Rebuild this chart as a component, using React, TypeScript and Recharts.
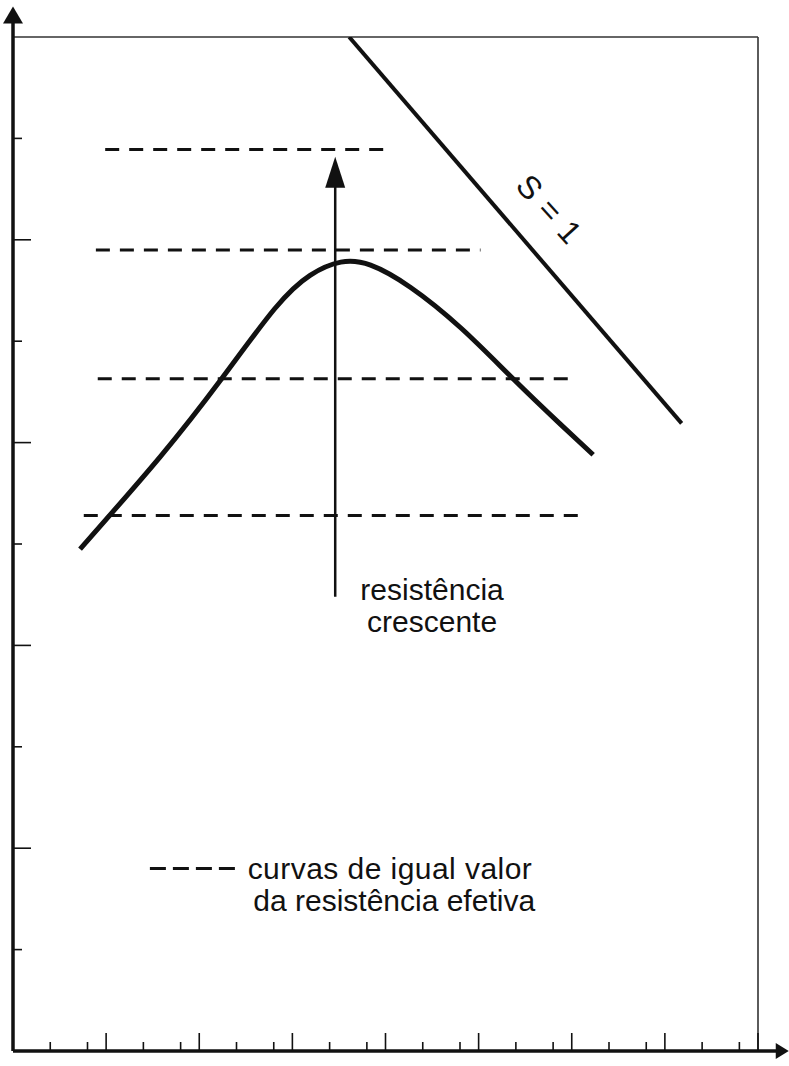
import { ComposedChart, Line, XAxis, YAxis, ReferenceLine, ReferenceDot } from 'recharts'

// axis ticks
const xMajorTicks = [1, 2, 3, 4, 5, 6, 7, 8]
const xMinorTicks = [
  0.2, 0.4, 0.6, 0.8, 1.2, 1.4, 1.6, 1.8, 2.2, 2.4, 2.6, 2.8, 3.2, 3.4, 3.6, 3.8,
  4.2, 4.4, 4.6, 4.8, 5.2, 5.4, 5.6, 5.8, 6.2, 6.4, 6.6, 6.8, 7.2, 7.4, 7.6, 7.8,
]
const yLongTicks = [2, 4, 6, 8]
const yShortTicks = [1, 3, 5, 7, 9]

// bell-shaped curve
const bellX = [0.72, 1.58, 2.24, 2.81, 3.19, 3.52, 3.84, 4.27, 4.81, 5.37, 5.88, 6.23]
const bellY = [4.95, 5.86, 6.63, 7.32, 7.65, 7.78, 7.75, 7.53, 7.13, 6.63, 6.18, 5.88]

// S = 1 line
const sLineX = [3.61, 7.18]
const sLineY = [10, 6.19]

// dashed lines of equal effective resistance
const isoLevels = [8.89, 7.9, 6.63, 5.28]
const isoStart = [0.99, 0.89, 0.91, 0.76]
const isoEnd = [4.05, 5.02, 5.97, 6.12]

// legend sample
const legendX = [1.47, 2.39]
const legendY = 1.8

// "resistência crescente" arrow
const arrowX = 3.46
const arrowFrom = 4.48
const arrowTo = 8.82

const FONT = '"Liberation Sans", Arial, Helvetica, sans-serif'
const INK = '#111'

const bell = bellX.map((x, i) => ({ x, y: bellY[i] }))
const sLine = sLineX.map((x, i) => ({ x, y: sLineY[i] }))
const isoLines = isoLevels.map((y, i) => [
  { x: isoStart[i], y },
  { x: isoEnd[i], y },
])
const legend = legendX.map(x => ({ x, y: legendY }))

function arrow(len: number, half: number) {
  return (p: any) => {
    const { x1, y1, x2, y2, stroke, strokeWidth } = p
    const dx = x2 - x1
    const dy = y2 - y1
    const d = Math.hypot(dx, dy) || 1
    const ux = dx / d
    const uy = dy / d
    const bx = x2 - ux * len
    const by = y2 - uy * len
    return (
      <g>
        <line x1={x1} y1={y1} x2={bx + ux * 2} y2={by + uy * 2} stroke={stroke} strokeWidth={strokeWidth} />
        <polygon
          points={`${x2},${y2} ${bx - uy * half},${by + ux * half} ${bx + uy * half},${by - ux * half}`}
          fill={stroke}
        />
      </g>
    )
  }
}

function label(text: string, size: number, anchor: 'start' | 'middle', rotate = 0, spacing = 0) {
  return (p: any) => (
    <text
      x={p.cx}
      y={p.cy}
      fontSize={size}
      fontFamily={FONT}
      fill={INK}
      letterSpacing={spacing}
      textAnchor={anchor}
      dominantBaseline={rotate ? 'central' : 'alphabetic'}
      transform={rotate ? `rotate(${rotate} ${p.cx} ${p.cy})` : undefined}
    >
      {text}
    </text>
  )
}

const noLabel = () => <g />
const tickStyle = { stroke: INK, strokeWidth: 1.6 }

export default function App() {
  return (
    <div style={{ position: 'absolute', left: 0, top: 0, width: 789, height: 1066, background: '#fff' }}>
      <ComposedChart width={789} height={1066} margin={{ top: 37, right: 31, bottom: 15, left: 13 }}>
        <XAxis xAxisId="x" type="number" dataKey="x" domain={[0, 8]} ticks={xMajorTicks} allowDataOverflow
          height={1} mirror tick={noLabel} tickSize={18} axisLine={false} tickLine={tickStyle} />
        <XAxis xAxisId="xm" type="number" dataKey="x" domain={[0, 8]} ticks={xMinorTicks} allowDataOverflow
          height={1} mirror tick={noLabel} tickSize={8} axisLine={false} tickLine={tickStyle} />
        <YAxis yAxisId="y" type="number" dataKey="y" domain={[0, 10]} ticks={yLongTicks} allowDataOverflow
          width={1} mirror tick={noLabel} tickSize={18} axisLine={false} tickLine={tickStyle} />
        <YAxis yAxisId="ys" type="number" dataKey="y" domain={[0, 10]} ticks={yShortTicks} allowDataOverflow
          width={1} mirror tick={noLabel} tickSize={8} axisLine={false} tickLine={tickStyle} />

        {/* frame */}
        <ReferenceLine xAxisId="x" yAxisId="y" y={10} stroke="#333" strokeWidth={1.6} />
        <ReferenceLine xAxisId="x" yAxisId="y" x={8} stroke="#333" strokeWidth={1.6} />

        {/* axes with arrows */}
        <ReferenceLine xAxisId="x" yAxisId="y" segment={[{ x: 0, y: 0 }, { x: 8.33, y: 0 }]}
          ifOverflow="visible" stroke={INK} strokeWidth={3.5} shape={arrow(13, 8)} />
        <ReferenceLine xAxisId="x" yAxisId="y" segment={[{ x: 0, y: 0 }, { x: 0, y: 10.3 }]}
          ifOverflow="visible" stroke={INK} strokeWidth={3.5} shape={arrow(17, 10)} />

        {isoLines.map((d, i) => (
          <Line key={i} xAxisId="x" yAxisId="y" data={d} dataKey="y" type="linear" stroke={INK}
            strokeWidth={3} strokeDasharray="14 10" dot={false} activeDot={false} isAnimationActive={false} />
        ))}

        <Line xAxisId="x" yAxisId="y" data={bell} dataKey="y" type="natural" stroke={INK}
          strokeWidth={5} dot={false} activeDot={false} isAnimationActive={false} />
        <Line xAxisId="x" yAxisId="y" data={sLine} dataKey="y" type="linear" stroke={INK}
          strokeWidth={4} dot={false} activeDot={false} isAnimationActive={false} />
        <Line xAxisId="x" yAxisId="y" data={legend} dataKey="y" type="linear" stroke={INK}
          strokeWidth={3} strokeDasharray="16 7" dot={false} activeDot={false} isAnimationActive={false} />

        <ReferenceLine xAxisId="x" yAxisId="y" segment={[{ x: arrowX, y: arrowFrom }, { x: arrowX, y: arrowTo }]}
          stroke={INK} strokeWidth={2.5} shape={arrow(31, 10)} />

        <ReferenceDot xAxisId="x" yAxisId="y" x={5.76} y={8.3} r={0} shape={label('S = 1', 32, 'middle', 48, 1)} />
        <ReferenceDot xAxisId="x" yAxisId="y" x={4.5} y={4.45} r={0} shape={label('resistência', 30, 'middle')} />
        <ReferenceDot xAxisId="x" yAxisId="y" x={4.5} y={4.13} r={0} shape={label('crescente', 30, 'middle')} />
        <ReferenceDot xAxisId="x" yAxisId="y" x={2.52} y={1.7} r={0} shape={label('curvas de igual valor', 30, 'start', 0, 0.45)} />
        <ReferenceDot xAxisId="x" yAxisId="y" x={2.58} y={1.38} r={0} shape={label('da resistência efetiva', 30, 'start')} />
      </ComposedChart>
    </div>
  )
}
